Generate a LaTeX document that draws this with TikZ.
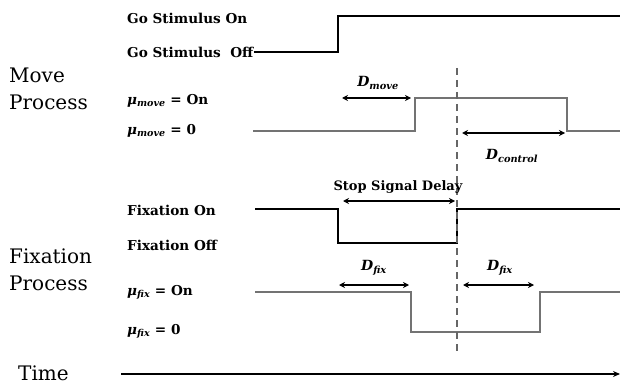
\documentclass[tikz,border=0pt]{standalone}
\usepackage{fontspec}
\setmainfont{DejaVu Serif}
\usetikzlibrary{arrows.meta,positioning}
\newcommand{\rateof}[1]{\textbf{\textit{μ}\textsubscript{\itshape #1}}}
\newcommand{\delayof}[1]{\textbf{\textit{D}\textsubscript{\itshape #1}}}
\tikzset{
  siglabel/.style={anchor=west, inner sep=0pt, font=\bfseries\fontsize{13.6}{16}\selectfont},
  proclabel/.style={anchor=west, inner sep=0pt, align=left, font=\fontsize{20}{27}\selectfont},
  spanlabel/.style={inner sep=0pt, font=\fontsize{14}{17}\selectfont},
  stimline/.style={line width=1.7pt, black},
  rateline/.style={line width=1.2pt, black!55},
  span/.style={{Stealth[length=6pt,width=6pt]}-{Stealth[length=6pt,width=6pt]}, line width=1.3pt},
  timeaxis/.style={-{Stealth[length=7pt,width=6pt]}, line width=1.3pt}
}
\begin{document}
\begin{tikzpicture}[x=1pt, y=-1pt]
\useasboundingbox (0,0) rectangle (620,385);
% labels on the left
\node[siglabel] (goon) at (127,18) {Go Stimulus On};
\node[siglabel] (gooff) at (127,52) {Go Stimulus\ \ Off};
\node[proclabel] (move) at (9,89) {Move\\Process};
\node[siglabel] (mvon) at (127,101) {\rateof{move} = On};
\node[siglabel] (mvzero) at (127,131) {\rateof{move} = 0};
\node[siglabel] (fixon) at (127,210) {Fixation On};
\node[siglabel] (fixoff) at (127,245) {Fixation Off};
\node[proclabel] (fixproc) at (9,270) {Fixation\\Process};
\node[siglabel] (fxon) at (127,292) {\rateof{fix} = On};
\node[siglabel] (fxzero) at (127,331) {\rateof{fix} = 0};
\node[proclabel] (time) at (18,373) {Time};
% signals
\draw[stimline] (gooff.east) -- (338,52) -- (338,16) -- (620,16);
\draw[rateline] (253,131) -- (415,131) -- (415,98) -- (567,98) -- (567,131) -- (620,131);
\draw[stimline] (255,209) -- (338,209) -- (338,243) -- (457,243) -- (457,209) -- (620,209);
\draw[rateline] (255,292) -- (411,292) -- (411,332) -- (540,332) -- (540,292) -- (620,292);
\draw[line width=1.4pt, black!60, dash pattern=on 7pt off 5pt] (457,68) -- (457,352);
% delays
\draw[span] (342,98) -- (411,98);
\node[spanlabel] (dmove) at (378,83) {\delayof{move}};
\draw[span] (462,133) -- (565,133);
\node[spanlabel] (dctrl) at (512,156) {\delayof{control}};
\draw[span] (343,201) -- (455,201);
\node[siglabel, anchor=center, font=\bfseries\fontsize{13}{15}\selectfont] (ssd) at (398,187) {Stop Signal Delay};
\draw[span] (339,285) -- (409,285);
\node[spanlabel] (dfix1) at (374,268) {\delayof{fix}};
\draw[span] (463,285) -- (534,285);
\node[spanlabel] (dfix2) at (500,268) {\delayof{fix}};
% time axis
\coordinate (tstart) at (121,374);
\coordinate (tend) at (620,374);
\draw[timeaxis] (tstart) -- (tend);
\end{tikzpicture}
\end{document}
